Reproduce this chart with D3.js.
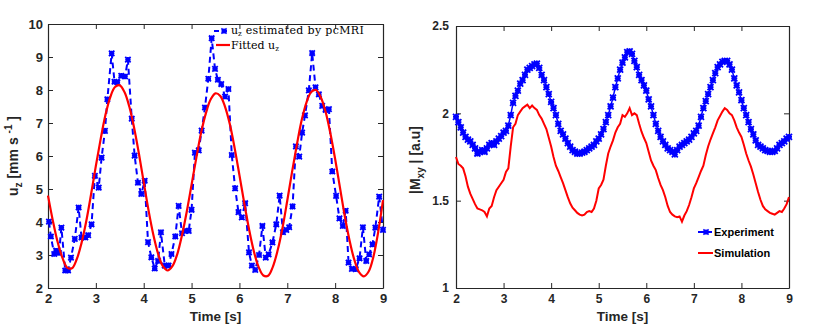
<!DOCTYPE html>
<html>
<head>
<meta charset="utf-8">
<script src="https://cdn.jsdelivr.net/npm/d3@7"></script>
<style>
  body { margin: 0; background: #fff; }
  .axis text { font-family: "Liberation Sans", Arial, sans-serif; font-weight: bold; fill: #262626; }
  .axis path, .axis line { stroke: #262626; }
  .axis-label { font-family: "Liberation Sans", Arial, sans-serif; font-weight: bold; fill: #262626; }
</style>
</head>
<body>
<svg id="chart"></svg>
<script>
// ---- left panel: velocity from pcMRI and the fitted curve ----
const mriTime = [2.02,2.06,2.13,2.17,2.23,2.28,2.36,2.42,2.48,2.56,
  2.64,2.70,2.78,2.84,2.91,2.98,3.06,3.12,3.19,3.24,
  3.33,3.39,3.45,3.53,3.61,3.67,3.75,3.81,3.88,3.95,
  4.02,4.09,4.16,4.23,4.30,4.36,4.44,4.52,4.58,4.66,
  4.73,4.80,4.87,4.94,5.00,5.07,5.15,5.21,5.28,5.35,
  5.42,5.49,5.55,5.62,5.70,5.77,5.84,5.91,5.98,6.05,
  6.12,6.20,6.26,6.33,6.41,6.48,6.55,6.61,6.69,6.77,
  6.84,6.91,6.98,7.04,7.11,7.18,7.25,7.31,7.37,7.45,
  7.52,7.59,7.66,7.73,7.80,7.87,7.94,8.02,8.09,8.16,
  8.22,8.28,8.35,8.43,8.51,8.58,8.65,8.71,8.78,8.84,
  8.92,9.00];
const mriVel = [4.01,3.56,3.03,3.13,3.06,3.83,2.53,2.53,2.92,3.49,
  4.44,3.53,3.53,3.60,3.93,5.40,5.04,5.95,6.76,7.72,
  9.11,8.25,8.23,8.43,8.41,8.92,7.13,6.01,5.19,4.85,
  5.25,3.39,2.93,2.59,2.82,3.69,2.68,2.68,3.03,3.56,
  4.49,3.66,3.73,3.73,4.37,6.10,6.17,6.77,7.47,8.34,
  9.57,8.64,8.31,8.18,7.80,8.03,6.03,5.02,4.30,4.14,
  4.57,3.08,2.68,2.55,3.00,3.88,2.92,3.02,3.38,3.93,
  4.80,3.69,3.76,3.84,4.47,6.29,5.98,6.71,7.23,7.99,
  9.12,8.08,7.87,7.52,7.40,7.42,5.53,4.79,4.11,3.88,
  4.34,2.77,2.58,2.57,2.90,3.84,2.82,3.02,3.32,3.83,
  4.77,3.76];
// fitted curve read every 0.1 s from 2 to 9
const fitVel = [4.80,4.05,3.40,2.92,2.62,2.60,2.87,3.36,4.03,4.84,
  5.70,6.51,7.24,7.78,8.09,8.14,7.93,7.49,6.85,6.07,
  5.21,4.36,3.62,3.04,2.66,2.53,2.66,3.02,3.60,4.32,
  5.13,5.95,6.71,7.30,7.72,7.90,7.82,7.49,6.96,6.24,
  5.42,4.58,3.79,3.12,2.64,2.38,2.37,2.65,3.15,3.82,
  4.65,5.52,6.34,7.08,7.62,7.94,8.00,7.78,7.34,6.69,
  5.91,5.05,4.19,3.45,2.86,2.48,2.35,2.50,2.95,3.70,
  4.66];

// ---- right panel: |Mxy| experiment vs simulation, read every 0.05 s ----
const expMxy = [1.98,1.95,1.92,1.89,1.865,1.85,1.84,1.82,1.80,1.77,
  1.78,1.79,1.78,1.80,1.82,1.83,1.82,1.84,1.855,1.87,
  1.89,1.90,1.93,1.99,2.06,2.10,2.13,2.17,2.19,2.22,
  2.25,2.26,2.27,2.28,2.285,2.26,2.22,2.19,2.15,2.11,
  2.065,2.03,1.99,1.94,1.90,1.88,1.855,1.83,1.81,1.79,
  1.78,1.77,1.77,1.775,1.78,1.79,1.80,1.81,1.82,1.84,
  1.855,1.88,1.91,1.95,1.99,2.04,2.09,2.15,2.20,2.25,
  2.29,2.32,2.35,2.355,2.34,2.30,2.265,2.22,2.19,2.16,
  2.13,2.08,2.04,1.99,1.94,1.90,1.865,1.84,1.82,1.80,
  1.79,1.78,1.765,1.79,1.81,1.82,1.83,1.84,1.85,1.865,
  1.885,1.90,1.93,1.98,2.03,2.07,2.11,2.15,2.19,2.23,
  2.265,2.28,2.295,2.30,2.30,2.28,2.25,2.20,2.16,2.12,
  2.075,2.03,1.99,1.95,1.91,1.88,1.845,1.82,1.81,1.80,
  1.79,1.785,1.78,1.78,1.785,1.80,1.82,1.83,1.84,1.855,
  1.865];
const simMxy = [1.75,1.71,1.70,1.685,1.64,1.58,1.54,1.51,1.48,1.455,
  1.45,1.445,1.435,1.41,1.455,1.47,1.52,1.56,1.58,1.60,
  1.62,1.665,1.685,1.81,1.92,1.94,1.99,2.01,2.03,2.04,
  2.05,2.03,2.045,2.03,2.02,1.99,1.97,1.94,1.91,1.86,
  1.81,1.75,1.70,1.67,1.635,1.60,1.56,1.52,1.485,1.46,
  1.445,1.43,1.42,1.415,1.42,1.435,1.44,1.435,1.455,1.50,
  1.57,1.59,1.62,1.70,1.77,1.81,1.845,1.89,1.92,1.94,
  1.99,1.98,2.00,2.03,1.99,2.00,1.99,1.94,1.895,1.86,
  1.83,1.78,1.73,1.70,1.675,1.63,1.59,1.56,1.52,1.47,
  1.435,1.42,1.41,1.405,1.41,1.38,1.415,1.44,1.475,1.52,
  1.57,1.60,1.635,1.67,1.70,1.76,1.81,1.85,1.885,1.92,
  1.96,1.985,2.01,2.03,2.02,2.00,1.99,1.96,1.92,1.89,
  1.865,1.82,1.77,1.73,1.695,1.65,1.60,1.55,1.505,1.47,
  1.45,1.44,1.43,1.425,1.42,1.43,1.44,1.435,1.455,1.48,
  1.52];

const xTicks = [2, 3, 4, 5, 6, 7, 8, 9];
const leftYTicks = [2, 3, 4, 5, 6, 7, 8, 9, 10];
const rightYTicks = [1, 1.5, 2, 2.5];

const BLUE = "#0000ff", RED = "#ff0000";

const svg = d3.select("#chart").attr("width", 830).attr("height", 324);

// Matlab style '*' marker
function starPath(x, y, r) {
  return `M${x - r},${y - r}L${x + r},${y + r}M${x - r},${y + r}L${x + r},${y - r}` +
    `M${x - r},${y}L${x + r},${y}M${x},${y - r}L${x},${y + r}`;
}

class Panel {
  constructor(_config) {
    this.config = _config;
    this.initVis();
  }

  initVis() {
    let vis = this;
    const c = vis.config;
    vis.width = c.right - c.left;
    vis.height = c.bottom - c.top;

    vis.xScale = d3.scaleLinear().domain([2, 9]).range([0, vis.width]);
    vis.yScale = d3.scaleLinear().domain(c.yDomain).range([vis.height, 0]);

    vis.chart = svg.append("g").attr("transform", `translate(${c.left},${c.top})`);

    // box with inward ticks on every side
    vis.chart.append("g").attr("class", "axis")
      .attr("transform", `translate(0,${vis.height})`)
      .call(d3.axisBottom(vis.xScale).tickValues(xTicks).tickSizeInner(-5).tickSizeOuter(0)
        .tickPadding(6).tickFormat(d3.format("d")))
      .style("font-size", c.tickFont + "px");
    vis.chart.append("g").attr("class", "axis")
      .call(d3.axisTop(vis.xScale).tickValues(xTicks).tickSizeInner(-5).tickSizeOuter(0).tickFormat(""));
    vis.chart.append("g").attr("class", "axis")
      .call(d3.axisLeft(vis.yScale).tickValues(c.yTicks).tickSizeInner(-5).tickSizeOuter(0)
        .tickPadding(c.yPad).tickFormat(d3.format("")))
      .style("font-size", c.tickFont + "px");
    vis.chart.append("g").attr("class", "axis")
      .attr("transform", `translate(${vis.width},0)`)
      .call(d3.axisRight(vis.yScale).tickValues(c.yTicks).tickSizeInner(-5).tickSizeOuter(0).tickFormat(""));
    vis.chart.selectAll(".axis .domain").attr("stroke-width", 1.2);

    // x label
    svg.append("text").attr("class", "axis-label")
      .attr("x", c.left + vis.width / 2).attr("y", 321)
      .attr("text-anchor", "middle").style("font-size", "13.5px")
      .text("Time [s]");
  }
}

// ---- left panel ----
const left = new Panel({left: 48, right: 383, top: 24, bottom: 288,
  yDomain: [2, 10], yTicks: leftYTicks, tickFont: 13, yPad: 5});
{
  const vis = left;
  const xs = vis.xScale, ys = vis.yScale;
  const mri = mriTime.map((t, i) => ({t: t, v: mriVel[i]}));
  const fit = fitVel.map((v, i) => ({t: 2 + i * 0.1, v: v}));

  const line = d3.line().x(d => xs(d.t)).y(d => ys(d.v));

  vis.chart.append("path").datum(mri)
    .attr("d", line).attr("fill", "none")
    .attr("stroke", BLUE).attr("stroke-width", 2).attr("stroke-dasharray", "6,4");
  vis.chart.append("g").selectAll("path").data(mri).join("path")
    .attr("d", d => starPath(xs(d.t), ys(d.v), 2.7))
    .attr("stroke", BLUE).attr("stroke-width", 1.8).attr("fill", "none");

  vis.chart.append("path").datum(fit)
    .attr("d", line.curve(d3.curveCatmullRom)).attr("fill", "none")
    .attr("stroke", RED).attr("stroke-width", 2.2);

  // legend
  const lg = svg.append("g").style("font-family", "'DejaVu Serif', 'Liberation Serif', serif")
    .style("font-size", "11px").attr("fill", "#000");
  lg.append("line").attr("x1", 214).attr("x2", 228).attr("y1", 31).attr("y2", 31)
    .attr("stroke", BLUE).attr("stroke-width", 2).attr("stroke-dasharray", "5,3");
  lg.append("path").attr("d", starPath(224, 31, 2.6)).attr("stroke", BLUE).attr("stroke-width", 1.6);
  const t1 = lg.append("text").attr("x", 231).attr("y", 34);
  t1.append("tspan").text("u");
  t1.append("tspan").attr("dy", 2).style("font-size", "7px").text("z");
  t1.append("tspan").attr("dy", -2).attr("textLength", 122).text(" estimated by pcMRI");
  lg.append("line").attr("x1", 216).attr("x2", 230).attr("y1", 45).attr("y2", 45)
    .attr("stroke", RED).attr("stroke-width", 2.2);
  const t2 = lg.append("text").attr("x", 231).attr("y", 48.5);
  t2.append("tspan").text("Fitted u");
  t2.append("tspan").attr("dy", 2).style("font-size", "7px").text("z");

  // y label
  const yl = svg.append("text").attr("class", "axis-label")
    .attr("transform", "rotate(-90)").attr("x", -156).attr("y", 18)
    .attr("text-anchor", "middle").style("font-size", "14px")
    .style("font-family", "'Liberation Sans', Arial, sans-serif");
  yl.append("tspan").text("u");
  yl.append("tspan").attr("dy", 4).style("font-size", "10px").text("z");
  yl.append("tspan").attr("dy", -4).text(" [mm s ");
  yl.append("tspan").attr("dy", -6).style("font-size", "10px").text("-1");
  yl.append("tspan").attr("dy", 6).text(" ]");
}

// ---- right panel ----
const right = new Panel({left: 456, right: 789, top: 26, bottom: 288,
  yDomain: [1, 2.5], yTicks: rightYTicks, tickFont: 12, yPad: 7});
{
  const vis = right;
  const xs = vis.xScale, ys = vis.yScale;
  const exp = expMxy.map((v, i) => ({t: 2 + i * 0.05, v: v}));
  const sim = simMxy.map((v, i) => ({t: 2 + i * 0.05, v: v}));
  const line = d3.line().x(d => xs(d.t)).y(d => ys(d.v));

  vis.chart.append("path").datum(exp).attr("d", line).attr("fill", "none")
    .attr("stroke", BLUE).attr("stroke-width", 1.5);
  vis.chart.append("g").selectAll("path").data(exp).join("path")
    .attr("d", d => starPath(xs(d.t), ys(d.v), 3))
    .attr("stroke", BLUE).attr("stroke-width", 1.8).attr("fill", "none");
  vis.chart.append("path").datum(sim).attr("d", line).attr("fill", "none")
    .attr("stroke", RED).attr("stroke-width", 2);

  // legend
  const lg = svg.append("g").style("font-family", "'Liberation Sans', Arial, sans-serif")
    .style("font-weight", "bold").style("font-size", "11px").attr("fill", "#000");
  lg.append("line").attr("x1", 698).attr("x2", 712).attr("y1", 232).attr("y2", 232)
    .attr("stroke", BLUE).attr("stroke-width", 2);
  lg.append("path").attr("d", starPath(706, 232, 2.6)).attr("stroke", BLUE).attr("stroke-width", 1.6);
  lg.append("text").attr("x", 714).attr("y", 236).text("Experiment");
  lg.append("line").attr("x1", 698).attr("x2", 713).attr("y1", 253).attr("y2", 253)
    .attr("stroke", RED).attr("stroke-width", 2);
  lg.append("text").attr("x", 714).attr("y", 257).text("Simulation");

  // y label
  const yl = svg.append("text").attr("class", "axis-label")
    .attr("transform", "rotate(-90)").attr("x", -160).attr("y", 420)
    .attr("text-anchor", "middle").style("font-size", "14px");
  yl.append("tspan").text("|M");
  yl.append("tspan").attr("dy", 4).style("font-size", "10px").text("xy");
  yl.append("tspan").attr("dy", -4).text(" | [a.u]");
}
</script>
</body>
</html>
